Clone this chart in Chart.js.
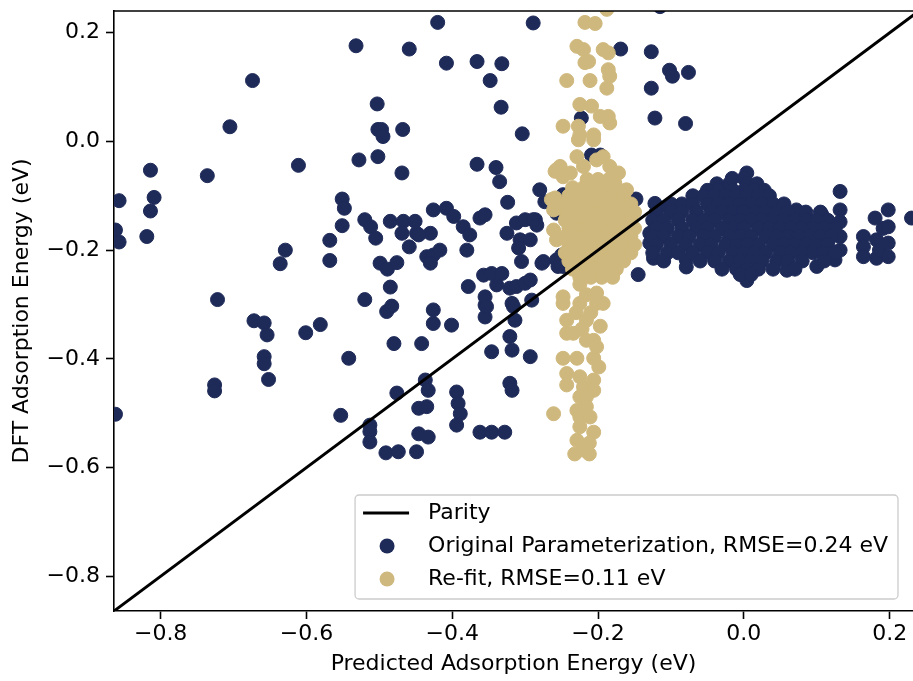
<!DOCTYPE html>
<html lang="en">
<head>
    <meta charset="UTF-8">
    <title>Parity plot - adsorption energies</title>
    <script src="https://cdn.jsdelivr.net/npm/chart.js@4.4.0/dist/chart.umd.min.js"></script>
    <style>
        body { margin: 0; background: #ffffff; }
        #wrap { width: 913px; height: 681px; }
    </style>
</head>
<body>
<div id="wrap"><canvas id="parityChart" width="913" height="681"></canvas></div>

<script>
    // axis limits and ticks (eV)
    const xLimits = [-0.864, 0.232];
    const yLimits = [-0.864, 0.240];
    const tickStep = 0.2;

    // parity line end points
    const parityLine = [[-0.9, -0.9], [0.3, 0.3]];

    // legend labels
    const seriesLabels = ['Parity', 'Original Parameterization, RMSE=0.24 eV', 'Re-fit, RMSE=0.11 eV'];
    const seriesColors = ['#000000', '#1e2a58', '#cfb87d'];

    // original parameterization: [predicted, DFT]
    const originalPoints = [
        [-0.532,0.176],[-0.459,0.170],[-0.674,0.112],[-0.705,0.027],[-0.503,0.069],
        [-0.502,0.022],[-0.497,0.022],[-0.495,0.009],[-0.468,0.022],[-0.528,-0.034],
        [-0.502,-0.028],[-0.469,-0.058],[-0.611,-0.044],[-0.736,-0.063],[-0.814,-0.053],
        [-0.809,-0.103],[-0.814,-0.128],[-0.819,-0.175],[-0.857,-0.109],[-0.862,-0.163],
        [-0.857,-0.185],[-0.629,-0.200],[-0.636,-0.225],[-0.568,-0.182],[-0.568,-0.219],
        [-0.551,-0.106],[-0.548,-0.123],[-0.551,-0.155],[-0.520,-0.144],[-0.512,-0.157],
        [-0.505,-0.178],[-0.485,-0.147],[-0.467,-0.147],[-0.451,-0.147],[-0.469,-0.169],
        [-0.459,-0.194],[-0.449,-0.169],[-0.499,-0.224],[-0.489,-0.235],[-0.476,-0.223],
        [-0.485,-0.268],[-0.722,-0.291],[-0.520,-0.291],[-0.490,-0.313],[-0.483,-0.303],
        [-0.672,-0.330],[-0.658,-0.334],[-0.654,-0.356],[-0.601,-0.352],[-0.581,-0.337],
        [-0.480,-0.372],[-0.658,-0.396],[-0.658,-0.409],[-0.652,-0.438],[-0.726,-0.448],
        [-0.726,-0.459],[-0.542,-0.399],[-0.862,-0.502],[-0.553,-0.504],[-0.476,-0.463],
        [-0.513,-0.522],[-0.513,-0.534],[-0.513,-0.553],[-0.491,-0.573],[-0.474,-0.571],
        [-0.426,-0.310],[-0.426,-0.335],[-0.401,-0.338],[-0.355,-0.301],[-0.355,-0.323],
        [-0.316,-0.304],[-0.314,-0.329],[-0.442,-0.372],[-0.346,-0.387],[-0.321,-0.359],
        [-0.318,-0.384],[-0.293,-0.396],[-0.321,-0.445],[-0.318,-0.458],[-0.437,-0.439],
        [-0.433,-0.458],[-0.446,-0.491],[-0.435,-0.488],[-0.394,-0.461],[-0.392,-0.482],
        [-0.389,-0.501],[-0.394,-0.522],[-0.362,-0.535],[-0.346,-0.535],[-0.328,-0.535],
        [-0.446,-0.538],[-0.433,-0.544],[-0.449,-0.571],
        [-0.420,0.219],[-0.289,0.218],[-0.408,0.144],[-0.366,0.147],[-0.332,0.143],
        [-0.348,0.112],[-0.333,0.063],[-0.304,0.014],[-0.366,-0.042],[-0.340,-0.048],
        [-0.335,-0.074],[-0.169,0.170],[-0.127,0.165],[-0.102,0.131],[-0.098,0.120],
        [-0.076,0.127],[-0.127,0.098],[-0.122,0.043],[-0.080,0.033],[-0.223,0.043],
        [-0.115,0.248],
        [-0.324,-0.112],[-0.280,-0.089],[-0.273,-0.111],[-0.426,-0.126],[-0.408,-0.123],
        [-0.398,-0.138],[-0.385,-0.157],[-0.376,-0.172],[-0.380,-0.200],[-0.362,-0.141],
        [-0.355,-0.135],[-0.430,-0.169],[-0.446,-0.172],[-0.435,-0.212],[-0.426,-0.209],
        [-0.417,-0.200],[-0.430,-0.224],[-0.325,-0.169],[-0.312,-0.150],[-0.300,-0.144],
        [-0.286,-0.144],[-0.307,-0.181],[-0.293,-0.181],[-0.309,-0.196],[-0.305,-0.221],
        [-0.275,-0.221],[-0.378,-0.267],[-0.357,-0.246],[-0.346,-0.243],[-0.332,-0.243],
        [-0.339,-0.264],[-0.321,-0.270],[-0.312,-0.267],[-0.300,-0.261],[-0.355,-0.286],
        [-0.353,-0.304],[-0.318,-0.298],[-0.291,-0.292],[-0.257,-0.132],[-0.257,-0.218],
        [-0.255,-0.230],
        [-0.148,-0.106],[-0.145,-0.245],[-0.289,-0.144],[-0.284,-0.154],[-0.277,-0.224],
        [-0.248,-0.098],[-0.234,-0.104],[-0.250,-0.209],[-0.248,-0.230],
        [-0.209,-0.025],[-0.197,-0.025],[-0.293,-0.255],[-0.252,-0.224],
        // right-hand cluster
        [-0.129,-0.169],[-0.129,-0.187],[-0.124,-0.215],[-0.122,-0.114],[-0.104,-0.120],
        [-0.079,-0.218],[-0.079,-0.231],[0.004,-0.256],
        [0.132,-0.092],[0.132,-0.126],[0.132,-0.148],[0.132,-0.175],[0.132,-0.200],
        [0.125,-0.218],[0.107,-0.135],[0.091,-0.147],[0.072,-0.126],[0.100,-0.230],
        [0.059,-0.237],[0.164,-0.175],[0.164,-0.194],[0.164,-0.212],[0.180,-0.141],
        [0.182,-0.181],[0.182,-0.215],[0.191,-0.160],[0.186,-0.200],[0.198,-0.126],
        [0.198,-0.157],[0.198,-0.187],[0.198,-0.212],[0.230,-0.141],
        [0.004,-0.058],
        [-0.016,-0.068],[0.000,-0.068],
        [-0.037,-0.078],[-0.020,-0.078],[0.005,-0.078],[0.018,-0.078],
        [-0.050,-0.090],[-0.035,-0.090],[-0.015,-0.090],[0.000,-0.090],[0.015,-0.090],[0.028,-0.090],
        [-0.070,-0.100],[-0.055,-0.100],[-0.040,-0.100],[-0.025,-0.100],[-0.010,-0.100],[0.005,-0.100],
        [0.020,-0.100],[0.035,-0.100],
        [-0.100,-0.115],[-0.085,-0.115],[-0.070,-0.115],[-0.050,-0.115],[-0.035,-0.115],[-0.020,-0.115],
        [-0.005,-0.115],[0.010,-0.115],[0.025,-0.115],[0.040,-0.115],[0.055,-0.115],
        [-0.120,-0.130],[-0.100,-0.130],[-0.085,-0.130],[-0.065,-0.130],[-0.045,-0.130],[-0.030,-0.130],
        [-0.015,-0.130],[0.000,-0.130],[0.015,-0.130],[0.030,-0.130],[0.045,-0.130],[0.060,-0.130],
        [0.085,-0.130],[0.105,-0.130],
        [-0.125,-0.145],[-0.110,-0.145],[-0.090,-0.145],[-0.070,-0.145],[-0.055,-0.145],[-0.040,-0.145],
        [-0.020,-0.145],[-0.005,-0.145],[0.010,-0.145],[0.025,-0.145],[0.040,-0.145],[0.055,-0.145],
        [0.070,-0.145],[0.085,-0.145],[0.100,-0.145],[0.115,-0.145],
        [-0.120,-0.160],[-0.105,-0.160],[-0.085,-0.160],[-0.065,-0.160],[-0.050,-0.160],[-0.030,-0.160],
        [-0.015,-0.160],[0.000,-0.160],[0.020,-0.160],[0.035,-0.160],[0.050,-0.160],[0.065,-0.160],
        [0.080,-0.160],[0.095,-0.160],[0.110,-0.160],[0.125,-0.160],
        [-0.125,-0.175],[-0.110,-0.175],[-0.090,-0.175],[-0.075,-0.175],[-0.055,-0.175],[-0.040,-0.175],
        [-0.020,-0.175],[-0.005,-0.175],[0.010,-0.175],[0.030,-0.175],[0.045,-0.175],[0.060,-0.175],
        [0.075,-0.175],[0.090,-0.175],[0.105,-0.175],[0.120,-0.175],
        [-0.120,-0.190],[-0.100,-0.190],[-0.080,-0.190],[-0.060,-0.190],[-0.045,-0.190],[-0.025,-0.190],
        [-0.010,-0.190],[0.005,-0.190],[0.020,-0.190],[0.040,-0.190],[0.055,-0.190],[0.070,-0.190],
        [0.085,-0.190],[0.100,-0.190],[0.115,-0.190],
        [-0.125,-0.205],[-0.105,-0.205],[-0.090,-0.205],[-0.070,-0.205],[-0.050,-0.205],[-0.035,-0.205],
        [-0.015,-0.205],[0.000,-0.205],[0.015,-0.205],[0.030,-0.205],[0.050,-0.205],[0.065,-0.205],
        [0.080,-0.205],[0.095,-0.205],[0.110,-0.205],[0.125,-0.205],
        [-0.110,-0.220],[-0.060,-0.220],[-0.040,-0.220],[-0.020,-0.220],[-0.005,-0.220],[0.010,-0.220],
        [0.025,-0.220],[0.045,-0.220],[0.060,-0.220],[0.080,-0.220],[0.110,-0.220],
        [-0.030,-0.235],[-0.010,-0.235],[0.005,-0.235],[0.020,-0.235],[0.040,-0.235],[0.070,-0.235],
        [-0.005,-0.245],[0.010,-0.245]
    ];

    // re-fit: [predicted, DFT]
    const refitPoints = [
        [-0.188,0.243],[-0.218,0.219],[-0.204,0.217],[-0.229,0.175],[-0.220,0.169],
        [-0.218,0.145],[-0.213,0.147],[-0.193,0.169],[-0.186,0.163],[-0.186,0.132],
        [-0.184,0.120],[-0.188,0.098],[-0.243,0.112],[-0.211,0.112],[-0.225,0.068],
        [-0.209,0.065],[-0.197,0.046],[-0.186,0.046],[-0.184,0.034],[-0.248,0.028],
        [-0.227,0.028],[-0.225,0.012],[-0.206,0.012],
        [-0.227,0.003],[-0.206,0.003],[-0.229,-0.028],[-0.252,-0.046],[-0.259,-0.055],
        [-0.238,-0.058],[-0.220,-0.046],[-0.202,-0.034],[-0.193,-0.028],[-0.184,-0.046],
        [-0.172,-0.058],[-0.177,-0.077],[-0.161,-0.089],[-0.257,-0.052],[-0.248,-0.065],
        [-0.259,-0.104],[-0.261,-0.126],[-0.261,-0.163],[-0.257,-0.181],[-0.243,-0.138],
        [-0.264,-0.107],[-0.257,-0.123],
        [-0.215,-0.070],[-0.200,-0.070],[-0.185,-0.070],
        [-0.235,-0.085],[-0.220,-0.085],[-0.205,-0.085],[-0.190,-0.085],[-0.175,-0.085],
        [-0.240,-0.100],[-0.225,-0.100],[-0.210,-0.100],[-0.195,-0.100],[-0.180,-0.100],[-0.165,-0.100],
        [-0.245,-0.115],[-0.230,-0.115],[-0.215,-0.115],[-0.200,-0.115],[-0.185,-0.115],[-0.170,-0.115],[-0.155,-0.115],
        [-0.240,-0.130],[-0.225,-0.130],[-0.210,-0.130],[-0.195,-0.130],[-0.180,-0.130],[-0.165,-0.130],[-0.150,-0.130],
        [-0.245,-0.145],[-0.230,-0.145],[-0.215,-0.145],[-0.200,-0.145],[-0.185,-0.145],[-0.170,-0.145],[-0.155,-0.145],
        [-0.240,-0.160],[-0.225,-0.160],[-0.210,-0.160],[-0.195,-0.160],[-0.180,-0.160],[-0.165,-0.160],[-0.150,-0.160],
        [-0.245,-0.175],[-0.230,-0.175],[-0.215,-0.175],[-0.200,-0.175],[-0.185,-0.175],[-0.170,-0.175],[-0.155,-0.175],
        [-0.240,-0.190],[-0.225,-0.190],[-0.210,-0.190],[-0.195,-0.190],[-0.180,-0.190],[-0.165,-0.190],[-0.150,-0.190],
        [-0.245,-0.205],[-0.230,-0.205],[-0.215,-0.205],[-0.200,-0.205],[-0.185,-0.205],[-0.170,-0.205],[-0.155,-0.205],
        [-0.240,-0.220],[-0.225,-0.220],[-0.210,-0.220],[-0.195,-0.220],[-0.180,-0.220],[-0.165,-0.220],
        [-0.235,-0.235],[-0.220,-0.235],[-0.205,-0.235],[-0.190,-0.235],[-0.175,-0.235],
        [-0.225,-0.250],[-0.210,-0.250],[-0.195,-0.250],[-0.180,-0.250],
        [-0.225,-0.263],[-0.202,-0.279],[-0.248,-0.286],[-0.216,-0.282],
        [-0.248,-0.298],[-0.225,-0.298],[-0.202,-0.298],[-0.193,-0.298],[-0.230,-0.315],
        [-0.210,-0.315],[-0.243,-0.329],[-0.216,-0.329],[-0.197,-0.340],[-0.222,-0.345],
        [-0.243,-0.353],[-0.234,-0.353],[-0.216,-0.366],[-0.206,-0.366],[-0.202,-0.378],
        [-0.248,-0.399],[-0.229,-0.399],[-0.206,-0.399],[-0.199,-0.415],[-0.243,-0.427],
        [-0.225,-0.433],[-0.206,-0.439],[-0.243,-0.448],[-0.220,-0.452],[-0.206,-0.458],
        [-0.225,-0.470],[-0.216,-0.470],[-0.216,-0.488],[-0.229,-0.495],[-0.261,-0.501],
        [-0.225,-0.507],[-0.211,-0.507],[-0.225,-0.525],[-0.206,-0.535],[-0.229,-0.550],
        [-0.212,-0.555],[-0.220,-0.568],[-0.232,-0.575],[-0.212,-0.575]
    ];

    const FONT = 'DejaVu Sans';
    const FONT_SIZE = 22;

    function toXY(list) {
        return list.map(function (p) { return {x: p[0], y: p[1]}; });
    }

    // matplotlib style tick text with a real minus sign
    function tickText(value) {
        return value.toFixed(1).replace('-', '\u2212');
    }

    // top spine (left and bottom come from the axes)
    const topSpine = {
        id: 'topSpine',
        afterDraw(chart) {
            const ctx = chart.ctx;
            const area = chart.chartArea;
            ctx.save();
            ctx.strokeStyle = '#000';
            ctx.lineWidth = 1.6;
            ctx.beginPath();
            ctx.moveTo(area.left, area.top);
            ctx.lineTo(area.right, area.top);
            ctx.stroke();
            ctx.restore();
        }
    };

    // legend box in the lower right corner
    const legendBox = {
        id: 'legendBox',
        afterDraw(chart) {
            const ctx = chart.ctx;
            const area = chart.chartArea;
            ctx.save();
            ctx.font = FONT_SIZE + 'px "' + FONT + '"';
            var textW = 0;
            seriesLabels.forEach(function (t) { textW = Math.max(textW, ctx.measureText(t).width); });
            var right = area.right - 15;
            var bottom = area.bottom - 12;
            var width = 73 + textW + 10;
            var height = 104;
            var left = right - width;
            var top = bottom - height;

            ctx.fillStyle = 'rgba(255,255,255,0.8)';
            ctx.strokeStyle = '#cccccc';
            ctx.lineWidth = 1.3;
            ctx.beginPath();
            ctx.roundRect(left, top, width, height, 4);
            ctx.fill();
            ctx.stroke();

            var rows = [top + 18, top + 51, top + 84];
            var markX = left + 32;
            // parity line sample
            ctx.strokeStyle = seriesColors[0];
            ctx.lineWidth = 3;
            ctx.beginPath();
            ctx.moveTo(left + 8, rows[0]);
            ctx.lineTo(left + 54, rows[0]);
            ctx.stroke();
            // marker samples
            for (var i = 1; i < 3; i++) {
                ctx.fillStyle = seriesColors[i];
                ctx.beginPath();
                ctx.arc(markX, rows[i], 7.5, 0, Math.PI * 2);
                ctx.fill();
            }
            ctx.fillStyle = '#000';
            ctx.textBaseline = 'middle';
            ctx.textAlign = 'left';
            for (var j = 0; j < 3; j++) {
                ctx.fillText(seriesLabels[j], left + 73, rows[j]);
            }
            ctx.restore();
        }
    };

    Chart.defaults.font.family = FONT;
    Chart.defaults.font.size = FONT_SIZE;
    Chart.defaults.color = '#000';

    new Chart('parityChart', {
        type: 'scatter',
        data: {
            datasets: [
                {
                    label: seriesLabels[0],
                    data: toXY(parityLine),
                    showLine: true,
                    borderColor: seriesColors[0],
                    borderWidth: 3,
                    pointRadius: 0,
                    order: 0
                },
                {
                    label: seriesLabels[1],
                    data: toXY(originalPoints),
                    backgroundColor: seriesColors[1],
                    borderColor: seriesColors[1],
                    pointRadius: 7,
                    pointBorderWidth: 1,
                    clip: 0,
                    order: 2
                },
                {
                    label: seriesLabels[2],
                    data: toXY(refitPoints),
                    backgroundColor: seriesColors[2],
                    borderColor: seriesColors[2],
                    pointRadius: 7,
                    pointBorderWidth: 1,
                    clip: 0,
                    order: 1
                }
            ]
        },
        options: {
            responsive: false,
            animation: false,
            devicePixelRatio: 1,
            layout: { autoPadding: false, padding: { top: 11, right: 0, left: 0, bottom: 0 } },
            plugins: {
                legend: { display: false },
                tooltip: { enabled: false }
            },
            scales: {
                x: {
                    type: 'linear',
                    min: xLimits[0],
                    max: xLimits[1],
                    ticks: {
                        stepSize: tickStep,
                        includeBounds: false,
                        padding: 2,
                        maxRotation: 0,
                        callback: tickText
                    },
                    grid: { drawOnChartArea: false, drawTicks: true, tickLength: 8, tickWidth: 1.6, tickColor: '#000' },
                    border: { display: true, color: '#000', width: 1.6 },
                    title: {
                        display: true,
                        text: 'Predicted Adsorption Energy (eV)',
                        padding: { top: 0, bottom: 4 }
                    },
                    afterFit: function (scale) {
                        scale.height = 70;
                        scale.paddingLeft = 0;
                        scale.paddingRight = 0;
                    }
                },
                y: {
                    type: 'linear',
                    min: yLimits[0],
                    max: yLimits[1],
                    ticks: {
                        stepSize: tickStep,
                        includeBounds: false,
                        padding: 6,
                        callback: tickText
                    },
                    grid: { drawOnChartArea: false, drawTicks: true, tickLength: 8, tickWidth: 1.6, tickColor: '#000' },
                    border: { display: true, color: '#000', width: 1.6 },
                    title: {
                        display: true,
                        text: 'DFT Adsorption Energy (eV)',
                        padding: { top: 9, bottom: 0 }
                    },
                    afterFit: function (scale) {
                        scale.width = 114;
                        scale.paddingTop = 0;
                        scale.paddingBottom = 0;
                    }
                }
            }
        },
        plugins: [topSpine, legendBox]
    });
</script>
</body>
</html>
